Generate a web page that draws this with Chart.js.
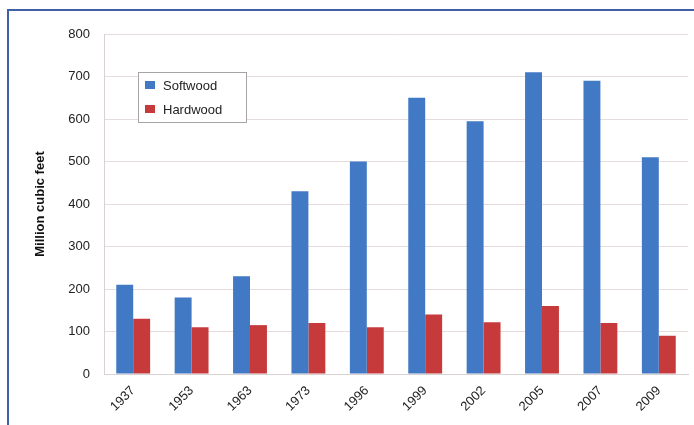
<!DOCTYPE html>
<html>
<head>
<meta charset="utf-8">
<script src="https://cdn.jsdelivr.net/npm/chart.js@4/dist/chart.umd.min.js"></script>
<style>
  html, body { margin: 0; padding: 0; background: #fff; }
  #wrap { position: relative; width: 694px; height: 425px; overflow: hidden; }
  #frame { position: absolute; left: 7px; top: 9px; width: 700px; height: 430px;
           border-top: 2px solid #4060a8; border-left: 2px solid #4060a8; }
  canvas { position: absolute; left: 0; top: 0; }
</style>
</head>
<body>
<div id="wrap">
  <div id="frame"></div>
  <canvas id="woodChart" width="694" height="425"></canvas>
</div>
<script>
const years = ['1937', '1953', '1963', '1973', '1996', '1999', '2002', '2005', '2007', '2009'];
const softwood = [210, 180, 230, 430, 500, 650, 595, 710, 690, 510];
const hardwood = [130, 110, 115, 120, 110, 140, 122, 160, 120, 90];
const yTicks = [0, 100, 200, 300, 400, 500, 600, 700, 800];

const FONT = '"Liberation Sans", Arial, sans-serif';

// legend box drawn inside the plot, top-left
const boxLegend = {
  id: 'boxLegend',
  afterDraw(chart) {
    const ctx = chart.ctx;
    const x = 138, y = 72, w = 108, h = 50;
    ctx.save();
    ctx.fillStyle = '#fff';
    ctx.fillRect(x, y, w, h);
    ctx.strokeStyle = '#a8a4a4';
    ctx.lineWidth = 1;
    ctx.strokeRect(x + 0.5, y + 0.5, w, h);
    ctx.font = '13px ' + FONT;
    ctx.textBaseline = 'middle';
    chart.data.datasets.forEach((ds, i) => {
      const cy = y + 13 + i * 24;
      ctx.fillStyle = ds.backgroundColor;
      ctx.fillRect(x + 7, cy - 4, 10, 8);
      ctx.fillStyle = '#222';
      ctx.fillText(ds.label, x + 25, cy + 1);
    });
    ctx.restore();
  }
};

new Chart(document.getElementById('woodChart'), {
  type: 'bar',
  data: {
    labels: years,
    datasets: [
      { label: 'Softwood', data: softwood, backgroundColor: '#4279c4' },
      { label: 'Hardwood', data: hardwood, backgroundColor: '#c63a3c' }
    ]
  },
  options: {
    responsive: false,
    animation: false,
    layout: { padding: { top: 34, right: 6, left: 0, bottom: 0 } },
    datasets: { bar: { categoryPercentage: 0.58, barPercentage: 1.0 } },
    plugins: { legend: { display: false }, tooltip: { enabled: false } },
    scales: {
      x: {
        grid: { display: false, drawTicks: false },
        border: { color: '#d8d2d2' },
        ticks: {
          color: '#222', font: { family: FONT, size: 13 },
          minRotation: 45, maxRotation: 45, padding: 9
        },
        afterFit(scale) { scale.height = 51; }
      },
      y: {
        min: 0, max: 800,
        afterBuildTicks(scale) { scale.ticks = yTicks.map(v => ({ value: v })); },
        grid: { color: '#e6dcdc', drawTicks: false },
        border: { color: '#d8d2d2' },
        ticks: { color: '#222', font: { family: FONT, size: 13 }, padding: 14 },
        title: {
          display: true, text: 'Million cubic feet', color: '#111',
          font: { family: FONT, size: 13, weight: 'bold' },
          padding: { top: 33, bottom: 0 }
        },
        afterFit(scale) { scale.width = 104; }
      }
    }
  },
  plugins: [boxLegend]
});
</script>
</body>
</html>
